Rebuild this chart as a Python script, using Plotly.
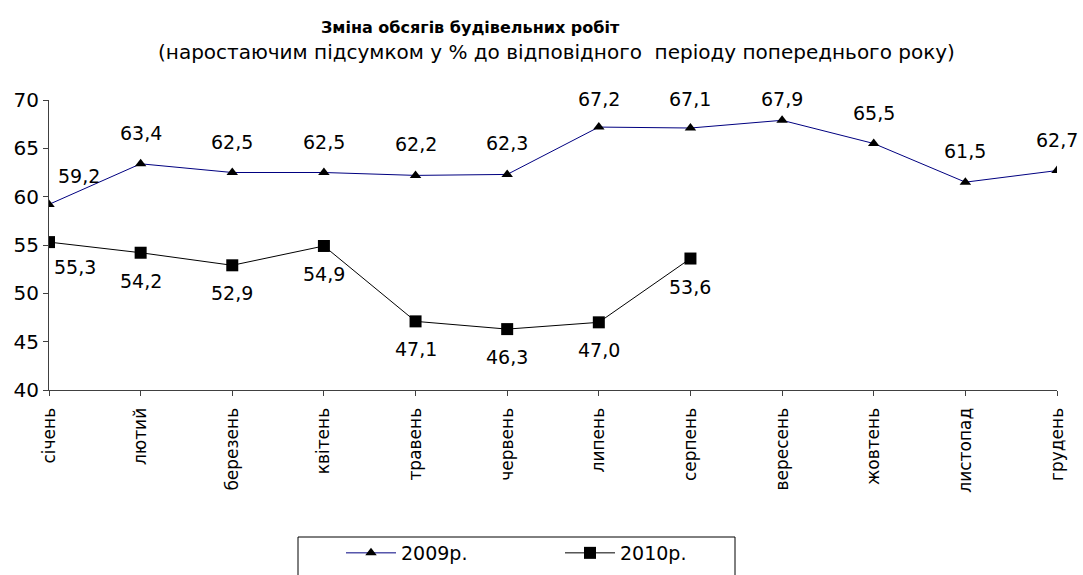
import plotly.graph_objects as go

months = ["січень", "лютий", "березень", "квітень", "травень", "червень",
          "липень", "серпень", "вересень", "жовтень", "листопад", "грудень"]
y2009 = [59.2, 63.4, 62.5, 62.5, 62.2, 62.3, 67.2, 67.1, 67.9, 65.5, 61.5, 62.7]
y2010 = [55.3, 54.2, 52.9, 54.9, 47.1, 46.3, 47.0, 53.6]
labels2009 = ["59,2", "63,4", "62,5", "62,5", "62,2", "62,3", "67,2", "67,1", "67,9", "65,5", "61,5", "62,7"]
labels2010 = ["55,3", "54,2", "52,9", "54,9", "47,1", "46,3", "47,0", "53,6"]

FONT = "DejaVu Sans"
W, H = 1083, 575
L, R, T, B = 49, 26, 100, 185
PW, PH = W - L - R, H - T - B
YMIN, YMAX = 40, 70


def px_x(p):
    return (p - L) / PW


def px_y(p):
    return (H - B - p) / PH


fig = go.Figure()
fig.add_trace(go.Scatter(x=list(range(len(months))), y=y2009, mode="lines+markers", name="2009р.",
                         line=dict(color="#000080", width=1),
                         marker=dict(symbol="triangle-up", size=10, color="black")))
fig.add_trace(go.Scatter(x=list(range(len(y2010))), y=y2010, mode="lines+markers", name="2010р.",
                         line=dict(color="black", width=1),
                         marker=dict(symbol="square", size=12, color="black")))

ann = []
for i, (v, t) in enumerate(zip(y2009, labels2009)):
    dist = (YMAX - v) / (YMAX - YMIN) * PH  # pixels from top of plot
    ys = min(31, dist + 1)
    xs = 0
    if i == 0:
        ys, xs = 28, 30
    ann.append(dict(x=i, y=v, text=t, showarrow=False, yshift=ys, xshift=xs,
                    font=dict(family=FONT, size=19, color="black")))
for i, (v, t) in enumerate(zip(y2010, labels2010)):
    ys, xs = -28, 0
    if i == 0:
        ys, xs = -25, 26
    ann.append(dict(x=i, y=v, text=t, showarrow=False, yshift=ys, xshift=xs,
                    font=dict(family=FONT, size=19, color="black")))

ann.append(dict(x=px_x(470), y=1, xref="paper", yref="paper", yanchor="middle", yshift=73,
                showarrow=False, text="<b>Зміна обсягів будівельних робіт</b>",
                font=dict(family=FONT, size=16, color="black")))
ann.append(dict(x=px_x(556), y=1, xref="paper", yref="paper", yanchor="middle", yshift=48,
                showarrow=False,
                text="(наростаючим підсумком у % до відповідного  періоду попереднього року)",
                font=dict(family=FONT, size=20, color="black")))

shapes = [dict(type="rect", xref="paper", yref="paper",
               x0=px_x(298), x1=px_x(735), y0=px_y(590), y1=px_y(537),
               line=dict(color="black", width=1), fillcolor="rgba(0,0,0,0)", layer="above")]

fig.update_layout(
    width=W, height=H,
    margin=dict(l=L, r=R, t=T, b=B, autoexpand=False),
    paper_bgcolor="white", plot_bgcolor="white",
    font=dict(family=FONT, size=17, color="black"),
    annotations=ann,
    shapes=shapes,
    showlegend=True,
    legend=dict(orientation="h", x=px_x(341), xanchor="left", y=px_y(553), yanchor="middle",
                borderwidth=0, bgcolor="rgba(0,0,0,0)", font=dict(family=FONT, size=19),
                entrywidth=154, itemwidth=50),
    xaxis=dict(range=[0, 11], tickmode="array", tickvals=list(range(12)), ticktext=months,
               tickangle=-90, showgrid=False, zeroline=False, showline=True, linecolor="#404040",
               ticks="outside", ticklen=5, tickcolor="#404040", automargin=False,
               ticklabelstandoff=5, tickfont=dict(family=FONT, size=17)),
    yaxis=dict(range=[YMIN, YMAX], dtick=5, showgrid=False, zeroline=False, showline=True,
               linecolor="#404040", ticks="outside", ticklen=5, tickcolor="#404040",
               automargin=False, tickfont=dict(family=FONT, size=20)),
)
fig.write_html("out.html", config={"displayModeBar": False},
               post_script="document.body.style.margin='0';document.body.style.overflow='hidden';")
